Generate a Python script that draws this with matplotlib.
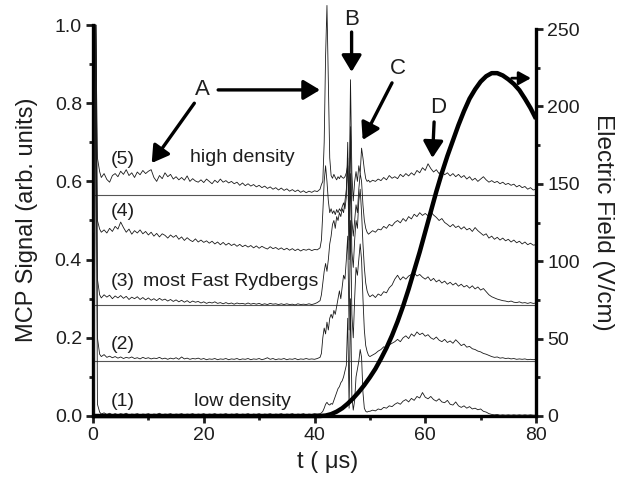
import numpy as np
import matplotlib
matplotlib.use("Agg")
import matplotlib.pyplot as plt
from matplotlib.ticker import MultipleLocator

plt.rcParams['font.family'] = ['Liberation Sans', 'DejaVu Sans']

# ---------------- data ----------------
t_early = [0.2, 0.5, 0.8, 1.2, 1.5, 2, 2.5, 3, 3.5, 4,
           4.5, 5, 5.5, 6, 6.5, 7, 7.5, 8, 8.5, 9,
           9.5, 10, 10.5, 11, 11.5, 12, 12.5, 13, 13.5, 14,
           14.5, 15, 15.5, 16, 16.5, 17, 17.5, 18, 18.5, 19,
           19.5, 20, 20.5, 21, 21.5, 22, 22.5, 23, 23.5, 24,
           24.5, 25, 25.5, 26, 26.5, 27, 27.5, 28, 28.5, 29,
           29.5, 30, 30.5, 31, 31.5, 32, 32.5, 33, 33.5, 34,
           34.5, 35, 35.5, 36, 36.5, 37, 37.5, 38, 38.5, 39,
           39.5, 40, 40.5]
t_peak = [41, 41.25, 41.5, 41.75, 42, 42.25, 42.5, 42.75, 43, 43.25,
          43.5, 43.75, 44, 44.25, 44.5, 44.75, 45, 45.25, 45.5, 45.75,
          46, 46.25, 46.5, 46.75, 47, 47.25, 47.5, 47.75, 48, 48.25,
          48.5, 48.75, 49, 49.25, 49.5, 49.75]
t_late = [50, 50.5, 51, 51.5, 52, 52.5, 53, 53.5, 54, 54.5,
          55, 55.5, 56, 56.5, 57, 57.5, 58, 58.5, 59, 59.5,
          60, 60.5, 61, 61.5, 62, 62.5, 63, 63.5, 64, 64.5,
          65, 65.5, 66, 66.5, 67, 67.5, 68, 68.5, 69, 69.5,
          70, 70.5, 71, 71.5, 72, 72.5, 73, 73.5, 74, 74.5,
          75, 75.5, 76, 76.5, 77, 77.5, 78, 78.5, 79, 79.5,
          80]

trace5 = [0.6, 1.0, 0.66, 0.625, 0.61, 0.62, 0.605, 0.598, 0.615, 0.62,
          0.612, 0.626, 0.618, 0.63, 0.615, 0.622, 0.61, 0.624, 0.617, 0.628,
          0.62, 0.626, 0.63, 0.61, 0.6, 0.615, 0.607, 0.622, 0.612, 0.618,
          0.606, 0.612, 0.604, 0.61, 0.603, 0.614, 0.6, 0.607, 0.601, 0.598,
          0.604, 0.597, 0.606, 0.6, 0.594, 0.603, 0.597, 0.606, 0.598, 0.602,
          0.596, 0.6, 0.594, 0.598, 0.59, 0.596, 0.589, 0.594, 0.588, 0.592,
          0.586, 0.59, 0.584, 0.588, 0.582, 0.586, 0.58, 0.584, 0.578, 0.583,
          0.577, 0.581, 0.575, 0.579, 0.574, 0.578, 0.572, 0.576, 0.571, 0.575,
          0.572, 0.576, 0.574,
          0.58, 0.592, 0.6, 0.7, 0.92, 1.05, 0.85, 0.66, 0.615, 0.608,
          0.618, 0.61, 0.604, 0.612, 0.607, 0.615, 0.61, 0.608, 0.612, 0.622,
          0.64, 0.54, 0.86, 0.62, 0.55, 0.6, 0.625, 0.6, 0.64, 0.62,
          0.685, 0.66, 0.63, 0.607, 0.6, 0.603,
          0.598, 0.603, 0.6, 0.606, 0.602, 0.61, 0.604, 0.615, 0.608, 0.612,
          0.607, 0.618, 0.612, 0.62, 0.614, 0.622, 0.616, 0.628, 0.622, 0.635,
          0.628, 0.645, 0.633, 0.624, 0.63, 0.62, 0.626, 0.617, 0.622, 0.614,
          0.62, 0.612, 0.618, 0.61, 0.615, 0.606, 0.612, 0.603, 0.608, 0.6,
          0.606, 0.612, 0.604, 0.598, 0.602, 0.597, 0.6, 0.594, 0.598, 0.592,
          0.595, 0.59, 0.593, 0.586, 0.59, 0.584, 0.587, 0.58, 0.584, 0.578,
          0.58]

trace4 = [0.47, 1.0, 0.5, 0.478, 0.47, 0.476, 0.468, 0.48, 0.472, 0.485,
          0.478, 0.496, 0.482, 0.47, 0.478, 0.465, 0.474, 0.468, 0.476, 0.466,
          0.472, 0.463, 0.47, 0.46, 0.467, 0.458, 0.466, 0.462, 0.455, 0.463,
          0.457, 0.462, 0.452, 0.458, 0.449, 0.456, 0.45, 0.446, 0.453, 0.445,
          0.45, 0.444, 0.448, 0.442, 0.447, 0.44, 0.445, 0.438, 0.444, 0.437,
          0.442, 0.436, 0.44, 0.434, 0.439, 0.433, 0.437, 0.432, 0.436, 0.43,
          0.435, 0.429, 0.434, 0.43, 0.427, 0.433, 0.428, 0.431, 0.426, 0.43,
          0.425, 0.429, 0.424, 0.428, 0.423, 0.427, 0.422, 0.426, 0.424, 0.427,
          0.423, 0.426, 0.425,
          0.43, 0.45, 0.52, 0.6, 0.64, 0.6, 0.55, 0.52, 0.53, 0.518,
          0.525, 0.515, 0.528, 0.52, 0.53, 0.524, 0.535, 0.545, 0.53, 0.56,
          0.7, 0.45, 0.74, 0.5, 0.46, 0.5, 0.54, 0.52, 0.58, 0.62,
          0.6, 0.54, 0.5, 0.48, 0.47, 0.465,
          0.468, 0.474, 0.47, 0.478, 0.476, 0.485, 0.48, 0.49, 0.486, 0.495,
          0.5, 0.494, 0.505, 0.498, 0.51, 0.504, 0.516, 0.51, 0.52, 0.513,
          0.518, 0.512, 0.522, 0.514, 0.508, 0.5, 0.505, 0.495, 0.49, 0.484,
          0.49, 0.482, 0.486, 0.478, 0.484, 0.476, 0.48, 0.472, 0.482, 0.474,
          0.468, 0.462, 0.466, 0.455, 0.46, 0.452, 0.457, 0.45, 0.455, 0.448,
          0.452, 0.445, 0.45, 0.443, 0.447, 0.44, 0.445, 0.438, 0.442, 0.437,
          0.438]

trace3 = [0.3, 1.0, 0.35, 0.31, 0.302, 0.31, 0.304, 0.309, 0.3, 0.307,
          0.302, 0.308, 0.301, 0.306, 0.298, 0.304, 0.3, 0.305, 0.298, 0.303,
          0.297, 0.302, 0.296, 0.3, 0.295, 0.301, 0.296, 0.299, 0.294, 0.298,
          0.293, 0.297, 0.292, 0.296, 0.291, 0.295, 0.29, 0.294, 0.291, 0.293,
          0.289, 0.292, 0.288, 0.291, 0.289, 0.292, 0.288, 0.29, 0.287, 0.29,
          0.287, 0.289, 0.286, 0.289, 0.287, 0.288, 0.286, 0.289, 0.286, 0.288,
          0.286, 0.288, 0.285, 0.287, 0.285, 0.288, 0.286, 0.287, 0.285, 0.287,
          0.285, 0.287, 0.285, 0.286, 0.284, 0.287, 0.285, 0.286, 0.285, 0.287,
          0.285, 0.287, 0.29,
          0.295, 0.31, 0.34, 0.37, 0.39, 0.37, 0.4, 0.44, 0.46, 0.49,
          0.5, 0.48, 0.51, 0.5, 0.52, 0.51, 0.53, 0.52, 0.55, 0.58,
          0.66, 0.4, 0.62, 0.42, 0.38, 0.45, 0.5, 0.48, 0.55, 0.58,
          0.52, 0.44, 0.38, 0.34, 0.32, 0.31,
          0.305, 0.31, 0.303, 0.312, 0.308, 0.318, 0.315, 0.328, 0.335, 0.35,
          0.36, 0.348, 0.356, 0.35, 0.358, 0.362, 0.366, 0.358, 0.362, 0.355,
          0.35, 0.356, 0.346, 0.352, 0.343, 0.348, 0.34, 0.345, 0.337, 0.342,
          0.335, 0.34, 0.332, 0.337, 0.33, 0.334, 0.327, 0.333, 0.325, 0.33,
          0.322, 0.326, 0.318, 0.31, 0.305, 0.302, 0.299, 0.297, 0.295, 0.294,
          0.292, 0.294, 0.291, 0.29, 0.292, 0.289, 0.29, 0.288, 0.29, 0.288,
          0.289]

trace2 = [0.15, 1.0, 0.2, 0.158, 0.152, 0.157, 0.15, 0.153, 0.149, 0.152,
          0.148, 0.151, 0.147, 0.15, 0.148, 0.151, 0.147, 0.149, 0.146, 0.15,
          0.147, 0.149, 0.146, 0.148, 0.147, 0.15, 0.146, 0.148, 0.145, 0.148,
          0.146, 0.149, 0.145, 0.151, 0.146, 0.148, 0.145, 0.147, 0.146, 0.148,
          0.145, 0.147, 0.144, 0.146, 0.145, 0.147, 0.144, 0.146, 0.145, 0.147,
          0.144, 0.146, 0.145, 0.147, 0.144, 0.146, 0.145, 0.147, 0.144, 0.146,
          0.145, 0.147, 0.144, 0.146, 0.149, 0.145, 0.147, 0.144, 0.146, 0.145,
          0.147, 0.144, 0.146, 0.145, 0.147, 0.144, 0.146, 0.145, 0.147, 0.145,
          0.146, 0.145, 0.147,
          0.15, 0.16, 0.2, 0.225, 0.21, 0.24, 0.22, 0.25, 0.26, 0.25,
          0.27, 0.26, 0.28, 0.3, 0.32, 0.3, 0.33, 0.36, 0.35, 0.4,
          0.46, 0.22, 0.5, 0.26, 0.2, 0.3, 0.38, 0.36, 0.4, 0.44,
          0.4, 0.3, 0.22, 0.18, 0.165, 0.155,
          0.152, 0.156, 0.16, 0.166, 0.17, 0.177, 0.174, 0.182, 0.186, 0.19,
          0.196, 0.19, 0.2, 0.205, 0.198, 0.21, 0.204, 0.215, 0.208, 0.212,
          0.204, 0.208, 0.2, 0.196, 0.202, 0.194, 0.19, 0.196, 0.188, 0.192,
          0.186, 0.195, 0.188, 0.18, 0.184, 0.176, 0.178, 0.172, 0.17, 0.166,
          0.164, 0.16, 0.158, 0.155, 0.152, 0.15, 0.151, 0.148, 0.149, 0.147,
          0.148, 0.146, 0.147, 0.145, 0.146, 0.145, 0.146, 0.144, 0.145, 0.144,
          0.145]

trace1 = [0.005, 1.0, 0.03, 0.01, 0.005, 0.008, 0.004, 0.007, 0.003, 0.006,
          0.003, 0.006, 0.004, 0.007, 0.003, 0.005, 0.004, 0.006, 0.003, 0.005,
          0.004, 0.006, 0.003, 0.005, 0.004, 0.007, 0.003, 0.005, 0.004, 0.006,
          0.003, 0.005, 0.004, 0.006, 0.003, 0.005, 0.004, 0.006, 0.003, 0.005,
          0.004, 0.006, 0.003, 0.005, 0.004, 0.006, 0.003, 0.005, 0.004, 0.006,
          0.003, 0.005, 0.004, 0.006, 0.003, 0.005, 0.004, 0.006, 0.003, 0.005,
          0.004, 0.006, 0.003, 0.005, 0.004, 0.006, 0.003, 0.005, 0.004, 0.006,
          0.003, 0.005, 0.004, 0.006, 0.003, 0.005, 0.004, 0.006, 0.003, 0.005,
          0.004, 0.006, 0.005,
          0.006, 0.008, 0.012, 0.02, 0.03, 0.035, 0.03, 0.028, 0.032, 0.03,
          0.04, 0.05, 0.06, 0.07, 0.075, 0.085, 0.09, 0.1, 0.115, 0.13,
          0.25, 0.02, 0.3, 0.05, 0.015, 0.04, 0.1, 0.12, 0.14, 0.17,
          0.15, 0.06, 0.02, 0.012, 0.01, 0.012,
          0.012, 0.015, 0.013, 0.018, 0.016, 0.022, 0.02, 0.026, 0.024, 0.03,
          0.034, 0.03, 0.038, 0.042, 0.036, 0.045, 0.04, 0.05, 0.046, 0.06,
          0.048, 0.044, 0.05, 0.042, 0.038, 0.044, 0.036, 0.034, 0.04, 0.03,
          0.028, 0.036, 0.026, 0.022, 0.026, 0.02, 0.024, 0.018, 0.02, 0.016,
          0.018, 0.012, 0.01, 0.006, 0.004, 0.003, 0.004, 0.002, 0.003, 0.002,
          0.003, 0.002, 0.003, 0.002, 0.003, 0.002, 0.003, 0.002, 0.003, 0.002,
          0.002]

baselines = [0.141, 0.284, 0.565]

t_field = [0, 41, 42, 43, 44, 45, 46, 47, 48, 49, 50, 51, 52, 53, 54, 55, 56, 57,
           58, 59, 60, 61, 62, 63, 64, 65, 66, 67, 68, 69, 70, 71, 72, 73, 74,
           75, 76, 77, 78, 79, 80]
field = [0, 0, 0.3, 1.2, 2.8, 5, 8, 11.5, 15.5, 20, 25, 30.5, 37, 44, 52, 61, 71, 82,
         94, 106, 119, 132, 145, 157, 168, 178, 188, 197, 205, 211, 216, 219.5, 221.5,
         221.5, 220, 217.5, 214.5, 210.5, 205, 199, 192]

trace_labels = ["(1)", "(2)", "(3)", "(4)", "(5)"]
trace_label_y = [0.036, 0.182, 0.343, 0.522, 0.655]

# ---------------- figure ----------------
TXT = '#1e1e1e'
fig = plt.figure(figsize=(6.22, 4.80), dpi=100)
ax = fig.add_axes([93 / 622, 64 / 480, 443 / 622, 391 / 480])
ax2 = ax.twinx()

t_all = np.concatenate([t_early, t_peak, t_late])
for tr in [trace1, trace2, trace3, trace4, trace5]:
    ax.plot(t_all, tr, color='#1a1a1a', lw=0.6, clip_on=False, zorder=3)

for b in baselines:
    ax.axhline(b, color='#555555', lw=0.8, zorder=2)

ax.set_xlim(0, 80)
ax.set_ylim(0, 1.0)
ax2.set_ylim(0, 252.6)

ax2.plot(t_field, field, color='black', lw=3.2, solid_capstyle='butt',
         solid_joinstyle='round', clip_on=False, zorder=4)

# spines
for a in (ax, ax2):
    a.spines['top'].set_visible(False)
ax.spines['right'].set_visible(False)
ax2.spines['left'].set_visible(False)
ax2.spines['bottom'].set_visible(False)
for s in ('left', 'bottom'):
    ax.spines[s].set_linewidth(2.4)
ax2.spines['right'].set_linewidth(2.4)
ax2.spines['right'].set_bounds(0, 250)

# ticks
ax.xaxis.set_major_locator(MultipleLocator(20))
ax.xaxis.set_minor_locator(MultipleLocator(10))
ax.yaxis.set_minor_locator(MultipleLocator(0.1))
ax2.yaxis.set_major_locator(MultipleLocator(50))
ax2.yaxis.set_minor_locator(MultipleLocator(25))
ax.set_yticks([0, 0.2, 0.4, 0.6, 0.8, 1.0])
ax.set_yticklabels(["0.0", "0.2", "0.4", "0.6", "0.8", "1.0"])
for a in (ax, ax2):
    a.tick_params(which='major', direction='out', length=5, width=2, labelsize=14,
                  colors=TXT, pad=3)
    a.tick_params(which='minor', direction='out', length=3, width=2, colors=TXT)

# axis labels
fig.text(27 / 622, 1 - 220 / 480, "MCP Signal (arb. units)", fontsize=17, color=TXT,
         rotation=90, ha='center', va='center')
fig.text(603 / 622, 1 - 222 / 480, "Electric Field (V/cm)", fontsize=17.5, color=TXT,
         rotation=270, ha='center', va='center')
fig.text(328 / 622, 1 - 462 / 480, "t ( μs)", fontsize=17, color=TXT,
         ha='center', va='center')

# trace labels
for lab, yy in zip(trace_labels, trace_label_y):
    ax.text(5.4, yy, lab, fontsize=14, ha='center', va='center', color=TXT)
ax.text(26.9, 0.66, "high density", fontsize=14, ha='center', va='center', color=TXT)
ax.text(9.0, 0.343, "most Fast Rydbergs", fontsize=14, ha='left', va='center', color=TXT)
ax.text(27.0, 0.036, "low density", fontsize=14, ha='center', va='center', color=TXT)

# annotations
aprops = dict(arrowstyle='-|>,head_length=0.5,head_width=0.3', lw=2.4, color='black',
              mutation_scale=20, shrinkA=0, shrinkB=0)
ax.text(19.7, 0.834, "A", fontsize=16, ha='center', va='center', color=TXT)
ax.annotate("", xy=(41.0, 0.834), xytext=(22.6, 0.834), arrowprops=aprops)
ax.annotate("", xy=(10.6, 0.647), xytext=(18.3, 0.80), arrowprops=aprops)
ax.text(46.75, 1.013, "B", fontsize=16, ha='center', va='center', color=TXT)
ax.annotate("", xy=(46.7, 0.88), xytext=(46.7, 0.982), arrowprops=aprops, annotation_clip=False)
ax.text(55.05, 0.89, "C", fontsize=16, ha='center', va='center', color=TXT)
ax.annotate("", xy=(48.7, 0.706), xytext=(54.0, 0.852), arrowprops=aprops)
ax.text(62.3, 0.79, "D", fontsize=16, ha='center', va='center', color=TXT)
ax.annotate("", xy=(61.3, 0.66), xytext=(61.6, 0.752), arrowprops=aprops)
small = dict(arrowstyle='-|>,head_length=0.4,head_width=0.22', lw=2.0, color='black',
             mutation_scale=18, shrinkA=0, shrinkB=0)
ax.annotate("", xy=(79.1, 0.864), xytext=(75.6, 0.864), arrowprops=small)

fig.savefig("out.png", dpi=100)
